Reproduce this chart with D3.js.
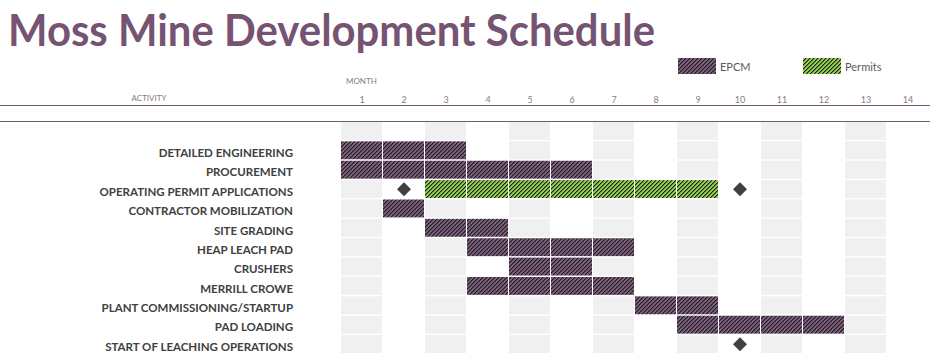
<!DOCTYPE html>
<html><head><meta charset="utf-8">
<script src="https://cdn.jsdelivr.net/npm/d3@7/dist/d3.min.js"></script>
<style>body{margin:0;background:#fff}svg{display:block}</style>
</head><body>
<script>
const title = "Moss Mine Development Schedule";
const months = [1,2,3,4,5,6,7,8,9,10,11,12,13,14];
const activities = ["DETAILED ENGINEERING","PROCUREMENT","OPERATING PERMIT APPLICATIONS","CONTRACTOR MOBILIZATION","SITE GRADING","HEAP LEACH PAD","CRUSHERS","MERRILL CROWE","PLANT COMMISSIONING/STARTUP","PAD LOADING","START OF LEACHING OPERATIONS"];
const startMonth = [1,1,3,2,3,4,5,4,8,9,null];
const endMonth   = [3,6,9,2,4,7,6,7,9,12,null];
const barType    = ["EPCM","EPCM","Permits","EPCM","EPCM","EPCM","EPCM","EPCM","EPCM","EPCM",null];
const milestoneActivity = ["OPERATING PERMIT APPLICATIONS","OPERATING PERMIT APPLICATIONS","START OF LEACHING OPERATIONS"];
const milestoneMonth = [2,10,10];
const legendLabels = ["EPCM","Permits"];

const W=930,H=355;
const svg=d3.select("body").append("svg").attr("width",W).attr("height",H);
const defs=svg.append("defs");
function hatch(id,bg){
  const p=defs.append("pattern").attr("id",id).attr("patternUnits","userSpaceOnUse").attr("width",4).attr("height",4);
  p.append("rect").attr("width",4).attr("height",4).attr("fill",bg);
  // pixel staircase diagonal "/" : one dark pixel per row plus a half-tone neighbour
  [0,1,2,3].forEach(r=>{
    p.append("rect").attr("x",3-r).attr("y",r).attr("width",1).attr("height",1).attr("fill","#1e1e1e").attr("shape-rendering","crispEdges");
    p.append("rect").attr("x",(4-r)%4).attr("y",r).attr("width",1).attr("height",1).attr("fill","#1e1e1e").attr("opacity",0.45).attr("shape-rendering","crispEdges");
  });
}
hatch("hEPCM","#7e5f80");
hatch("hPermits","#92d050");
const fillOf={EPCM:"url(#hEPCM)",Permits:"url(#hPermits)"};

const x=d3.scaleBand().domain(months).range([341,929]);
const rowsDomain=[""].concat(activities);
const y=d3.scaleBand().domain(rowsDomain).range([121,353.5]);

// title
svg.append("text").attr("x",8).attr("y",46).text(title)
  .attr("font-family","Lato, 'Open Sans', sans-serif").attr("font-weight",700).attr("font-size",44)
  .attr("fill","#765372").attr("textLength",647).attr("lengthAdjust","spacingAndGlyphs");

// header lines
svg.append("line").attr("x1",0).attr("x2",W).attr("y1",105.5).attr("y2",105.5).attr("stroke","#765372");
svg.append("line").attr("x1",0).attr("x2",W).attr("y1",121.5).attr("y2",121.5).attr("stroke","#765372");

svg.append("text").attr("x",346).attr("y",84).text("MONTH").attr("font-family","Lato, sans-serif").attr("font-size",8).attr("fill","#7f7f7f");
svg.append("text").attr("x",149).attr("y",101).attr("text-anchor","middle").text("ACTIVITY").attr("font-family","Lato, sans-serif").attr("font-size",8).attr("fill","#7f7f7f");

// month axis (labels only)
const ax=svg.append("g").attr("transform","translate(0,103)").call(d3.axisTop(x).tickSize(0).tickPadding(0));
ax.select(".domain").remove();
ax.selectAll("text").attr("font-family","Lato, sans-serif").attr("font-size",9).attr("fill","#7f7f7f");

// background grid cells (odd months gray)
const cells=[];
rowsDomain.forEach(r=>months.forEach(m=>cells.push({r,m})));
svg.append("g").selectAll("rect").data(cells.filter(c=>c.m%2===1)).join("rect")
  .attr("x",d=>x(d.m)).attr("y",d=>y(d.r)+1).attr("width",x.bandwidth()-1).attr("height",y.bandwidth()-1.5)
  .attr("fill","#f0f0f0");

// bars as per-month cells
const barCells=[];
activities.forEach((a,i)=>{ if(startMonth[i]!=null){ for(let m=startMonth[i];m<=endMonth[i];m++) barCells.push({a,m,t:barType[i]}); }});
svg.append("g").selectAll("rect").data(barCells).join("rect")
  .attr("x",d=>x(d.m)).attr("y",d=>y(d.a)+1).attr("width",x.bandwidth()-1).attr("height",y.bandwidth()-1.5)
  .attr("fill",d=>fillOf[d.t]);

// milestones
svg.append("g").selectAll("path").data(milestoneMonth.map((m,i)=>({m,a:milestoneActivity[i]}))).join("path")
  .attr("transform",d=>`translate(${x(d.m)+x.bandwidth()/2},${y(d.a)+y.bandwidth()/2+0.5})`)
  .attr("d","M0,-7 L7,0 L0,7 L-7,0 Z").attr("fill","#404040");

// row labels
svg.append("g").selectAll("text").data(activities).join("text")
  .attr("x",293).attr("y",d=>y(d)+y.bandwidth()/2+7).attr("text-anchor","end").text(d=>d)
  .attr("font-family","Lato, sans-serif").attr("font-weight",700).attr("font-size",11.5).attr("fill","#404040");

// legend
const lx=[678,803];
legendLabels.forEach((l,i)=>{
  svg.append("rect").attr("x",lx[i]).attr("y",58).attr("width",38).attr("height",16).attr("fill",fillOf[l]);
  svg.append("text").attr("x",lx[i]+42).attr("y",71).text(l).attr("font-family","Lato, sans-serif").attr("font-size",11).attr("fill","#595959");
});
</script>
</body></html>
